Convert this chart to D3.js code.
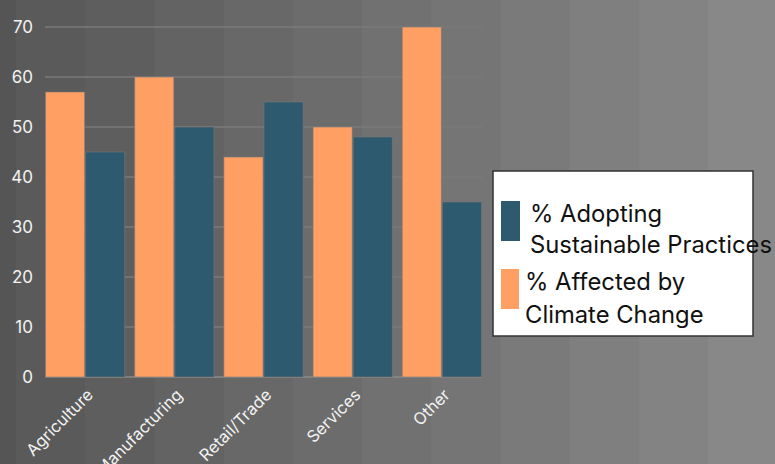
<!DOCTYPE html>
<html>
<head>
<meta charset="utf-8">
<script src="https://cdn.jsdelivr.net/npm/d3@7"></script>
<style>
  html, body { margin: 0; padding: 0; background: #6e6e6e; }
  svg { display: block; font-family: Inter, "Noto Sans", sans-serif; }
</style>
</head>
<body>
<svg id="chart" width="775" height="464"></svg>
<script>
// Sectors and the two measured shares (percent)
const categories = ["Agriculture", "Manufacturing", "Retail/Trade", "Services", "Other"];
const affectedByClimate = [57, 60, 44, 50, 70];
const adoptingSustainable = [45, 50, 55, 48, 35];
const yTicks = [0, 10, 20, 30, 40, 50, 60, 70];
const seriesNames = ["% Affected by Climate Change", "% Adopting Sustainable Practices"];
const seriesColors = ["#ff9f63", "#2d5a6e"];

const W = 775, H = 464;
const margin = { top: 27, right: 293, bottom: 87, left: 45 };
const svg = d3.select("#chart");

// Stepped horizontal shading behind everything
const bandEdges = [0];
for (let x = 16; x < W; x += 69.2) bandEdges.push(x);
bandEdges.push(W);
const shade = d3.interpolateRgb("#555555", "#888888");
svg.append("g").selectAll("rect")
  .data(d3.range(bandEdges.length - 1))
  .join("rect")
  .attr("x", i => bandEdges[i])
  .attr("y", 0)
  .attr("width", i => bandEdges[i + 1] - bandEdges[i] + 0.5)
  .attr("height", H)
  .attr("fill", i => shade(i / (bandEdges.length - 2)));

const x0 = d3.scaleBand()
  .domain(categories)
  .range([margin.left, W - margin.right])
  .paddingInner(0.1)
  .paddingOuter(0);
const x1 = d3.scaleBand()
  .domain([0, 1])
  .range([0, x0.bandwidth()])
  .padding(0);
const y = d3.scaleLinear()
  .domain([0, 70])
  .range([H - margin.bottom, margin.top]);

// Horizontal grid lines
svg.append("g")
  .selectAll("line")
  .data(yTicks)
  .join("line")
  .attr("x1", margin.left)
  .attr("x2", W - margin.right)
  .attr("y1", d => y(d))
  .attr("y2", d => y(d))
  .attr("stroke", d => d === 0 ? "#8a8a8a" : "#7a7a7a")
  .attr("stroke-width", 1.5);

// Y axis labels
const yAxis = d3.axisLeft(y).tickValues(yTicks).tickSize(0).tickPadding(12);
svg.append("g")
  .attr("transform", `translate(${margin.left},0)`)
  .call(yAxis)
  .call(g => g.select(".domain").remove())
  .call(g => g.selectAll("text")
    .attr("fill", "#f2f2f2")
    .attr("font-size", 17)
    .attr("font-family", "Inter, sans-serif"));

// Bars
const rows = categories.map((c, i) => ({ cat: c, values: [affectedByClimate[i], adoptingSustainable[i]] }));
svg.append("g")
  .selectAll("g")
  .data(rows)
  .join("g")
  .attr("transform", d => `translate(${x0(d.cat)},0)`)
  .selectAll("rect")
  .data(d => d.values.map((v, k) => ({ k, v })))
  .join("rect")
  .attr("x", d => x1(d.k) + 0.5)
  .attr("y", d => y(d.v))
  .attr("width", x1.bandwidth() - 1)
  .attr("height", d => y(0) - y(d.v))
  .attr("fill", d => seriesColors[d.k])
  .attr("stroke", "rgba(120,120,120,0.6)")
  .attr("stroke-width", 1);

// X axis labels, rotated
const xAxis = d3.axisBottom(x0).tickSize(0).tickPadding(0);
svg.append("g")
  .attr("transform", `translate(0,${y(0)})`)
  .call(xAxis)
  .call(g => g.select(".domain").remove())
  .call(g => g.selectAll("text")
    .attr("fill", "#f2f2f2")
    .attr("font-size", 16.5)
    .attr("font-family", "Inter, sans-serif")
    .attr("text-anchor", "end")
    .attr("dy", 0)
    .attr("transform", "translate(9,19) rotate(-45)"));

// Legend
const legend = svg.append("g");
legend.append("rect")
  .attr("x", 493).attr("y", 171)
  .attr("width", 260).attr("height", 165)
  .attr("fill", "#ffffff")
  .attr("stroke", "#333333")
  .attr("stroke-width", 1.5);

const legendItems = [
  { color: seriesColors[1], lines: ["% Adopting", "Sustainable Practices"], sx: 501, sy: 201, sw: 19, sh: 40, tx: 530, ty: 222, gap: 30.5 },
  { color: seriesColors[0], lines: ["% Affected by", "Climate Change"], sx: 501, sy: 269, sw: 18, sh: 40, tx: 525, ty: 290, gap: 33 }
];
legendItems.forEach(it => {
  legend.append("rect")
    .attr("x", it.sx).attr("y", it.sy)
    .attr("width", it.sw).attr("height", it.sh)
    .attr("fill", it.color);
  const t = legend.append("text")
    .attr("x", it.tx).attr("y", it.ty)
    .attr("fill", "#111111")
    .attr("font-size", 23.8)
    .attr("font-family", "Inter, sans-serif");
  it.lines.forEach((ln, i) => {
    t.append("tspan").attr("x", it.tx).attr("dy", i === 0 ? 0 : it.gap).text(ln);
  });
});
</script>
</body>
</html>
